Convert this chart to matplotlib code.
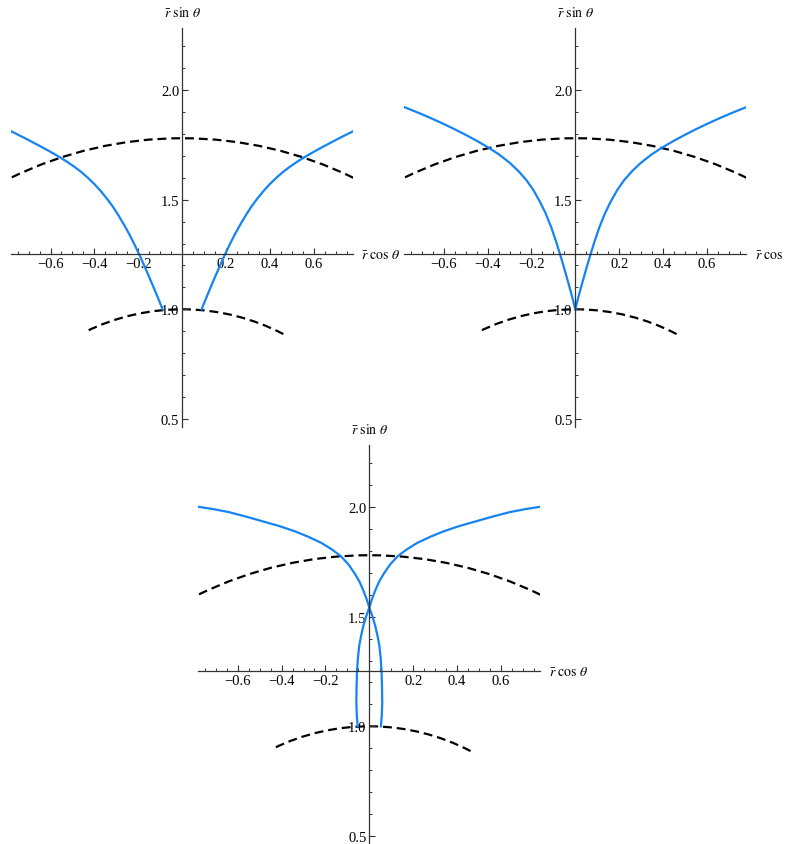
import numpy as np
import matplotlib.pyplot as plt
from matplotlib.patches import Arc

plt.rcParams['font.family'] = ['Liberation Serif', 'DejaVu Serif']
plt.rcParams['mathtext.fontset'] = 'stix'

# blue curves, left branch of each panel (right branch is its mirror image)
x1 = [-0.089, -0.110, -0.130, -0.150, -0.170, -0.191, -0.215, -0.240, -0.265, -0.290,
      -0.315, -0.340, -0.370, -0.400, -0.430, -0.460, -0.490, -0.525, -0.562, -0.600,
      -0.640, -0.680, -0.720, -0.760, -0.790]
y1 = [1.000, 1.052, 1.100, 1.147, 1.193, 1.240, 1.291, 1.341, 1.386, 1.428,
      1.467, 1.501, 1.538, 1.571, 1.600, 1.626, 1.649, 1.673, 1.696, 1.718,
      1.740, 1.761, 1.782, 1.802, 1.817]

x2 = [0.000, -0.010, -0.020, -0.035, -0.050, -0.068, -0.088, -0.109, -0.135, -0.162,
      -0.192, -0.223, -0.260, -0.298, -0.345, -0.392, -0.445, -0.495, -0.550, -0.602,
      -0.655, -0.708, -0.785]
y2 = [1.000, 1.040, 1.078, 1.132, 1.185, 1.246, 1.310, 1.372, 1.437, 1.492,
      1.545, 1.589, 1.631, 1.667, 1.704, 1.735, 1.766, 1.793, 1.821, 1.846,
      1.870, 1.893, 1.924]

# panel 3: strand starting bottom-right, crossing x=0, ending top-left
x3 = [0.053, 0.057, 0.059, 0.058, 0.056, 0.052, 0.046, 0.037, 0.027, 0.014,
      0.000, -0.013, -0.027, -0.045, -0.066, -0.095, -0.130, -0.170, -0.218, -0.280,
      -0.339, -0.410, -0.491, -0.565, -0.642, -0.715, -0.786]
y3 = [1.000, 1.050, 1.107, 1.180, 1.250, 1.310, 1.367, 1.415, 1.459, 1.502,
      1.542, 1.582, 1.619, 1.660, 1.696, 1.738, 1.776, 1.806, 1.836, 1.865,
      1.889, 1.913, 1.936, 1.957, 1.977, 1.991, 2.002]

curves = [(x1, y1), (x2, y2), (x3, y3)]

# dashed circle arcs: (radius, theta1, theta2) in degrees
arcs = [(1.0, 62.5, 116.0), (1.78, 64.0, 116.0)]

xticks = [-0.6, -0.4, -0.2, 0.2, 0.4, 0.6]
yticks = [0.5, 1.0, 1.5, 2.0]
xlim = (-0.78, 0.78)
ylim = (0.465, 2.285)

blue = '#1584f2'
W, H = 785, 845
scale = 219.3  # px per data unit
aw = (xlim[1] - xlim[0]) * scale / W
ah = (ylim[1] - ylim[0]) * scale / H

fig = plt.figure(figsize=(7.85, 8.45), dpi=100)
# y-axis pixel position and top pixel of each panel
placements = [(182.1, 28.5), (575.3, 28.5), (369.3, 445.5)]

for (cx, top), (xs, ys) in zip(placements, curves):
    left = (cx - (0 - xlim[0]) * scale) / W
    bottom = 1 - (top / H) - ah
    ax = fig.add_axes([left, bottom, aw, ah])
    ax.set_xlim(*xlim)
    ax.set_ylim(*ylim)
    ax.patch.set_alpha(0)

    for r, t1, t2 in arcs:
        ax.add_patch(Arc((0, 0), 2 * r, 2 * r, theta1=t1, theta2=t2,
                         color='black', lw=1.6, linestyle=(0, (4, 2.2))))

    xs = np.array(xs)
    ys = np.array(ys)
    ax.plot(xs, ys, color=blue, lw=1.6, solid_joinstyle='round')
    ax.plot(-xs, ys, color=blue, lw=1.6, solid_joinstyle='round')

    for s in ['top', 'right']:
        ax.spines[s].set_visible(False)
    ax.spines['left'].set_position(('data', 0))
    ax.spines['bottom'].set_position(('data', 1.25))
    for s in ['left', 'bottom']:
        ax.spines[s].set_color('#333333')
        ax.spines[s].set_linewidth(0.9)

    ax.set_xticks(xticks)
    ax.set_xticklabels(['\u2212' + f'{abs(v):.1f}' if v < 0 else f'{v:.1f}' for v in xticks])
    ax.set_yticks(yticks)
    ax.set_yticklabels([f'{v:.1f}' for v in yticks])
    ax.set_xticks(np.arange(-0.75, 0.76, 0.05), minor=True)
    ax.set_yticks(np.arange(0.5, 2.21, 0.1), minor=True)
    ax.tick_params(direction='in', length=4, width=0.8, color='#333333',
                   labelsize=10.5, pad=2)
    ax.tick_params(which='minor', direction='in', length=2.2, width=0.7, color='#333333')

    ax.annotate(r'$\bar{r}\ \mathrm{sin}\ \theta$', xy=(0, ylim[1]), xytext=(0, 6),
                textcoords='offset points', ha='center', va='bottom', fontsize=10,
                annotation_clip=False)
    ax.annotate(r'$\bar{r}\ \mathrm{cos}\ \theta$', xy=(xlim[1], 1.25), xytext=(6, 0),
                textcoords='offset points', ha='left', va='center', fontsize=10,
                annotation_clip=False)

fig.savefig('out.png', dpi=100)
